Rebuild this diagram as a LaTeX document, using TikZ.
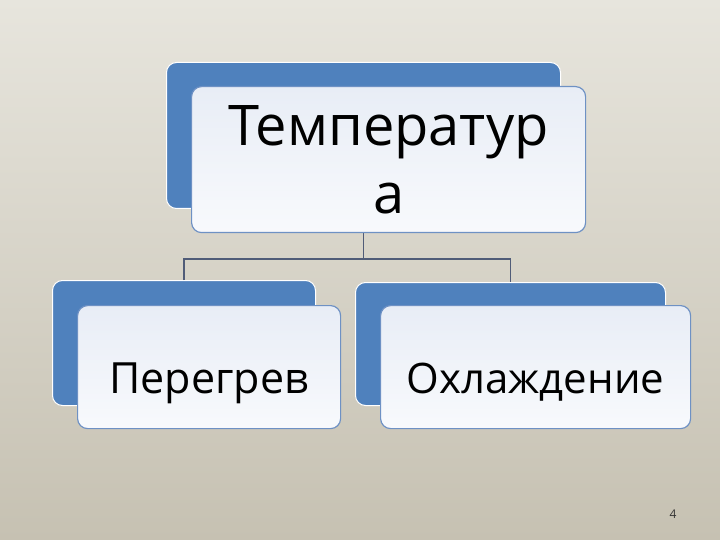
\documentclass[tikz,border=0pt]{standalone}
\usepackage{fontspec}
\setmainfont{Open Sans}
\usepackage{tikz}
\usetikzlibrary{calc}

\definecolor{officeblue}{RGB}{79,129,189}
\definecolor{frontline}{RGB}{110,145,196}
\definecolor{frontfill}{RGB}{232,237,246}
\definecolor{linkgray}{RGB}{80,92,120}
\definecolor{bgtop}{RGB}{231,229,221}
\definecolor{bgbottom}{RGB}{198,193,178}

\begin{document}
\begin{tikzpicture}[x=1pt,y=-1pt]
\tikzset{
	back box/.style = {draw = white, line width = 1, fill = officeblue, rounded corners = 10, anchor = north west, inner sep = 0},
	front box/.style = {draw = frontline, line width = 1.2, top color = frontfill, bottom color = white!70!frontfill, rounded corners = 10, anchor = north west, inner sep = 0, align = center},
	low text/.style = {text height = 63, text depth = 10},
	link/.style = {draw = linkgray, line width = 1.3},
}

% page
\shade[top color = bgtop, bottom color = bgbottom] (0,0) rectangle (720,540);
\useasboundingbox (0,0) rectangle (720,540);

% back boxes
\node(tempback)[back box, minimum width = 394, minimum height = 146] at (166,62) {};
\node(hotback)[back box, minimum width = 263, minimum height = 125] at (52,280) {};
\node(coolback)[back box, minimum width = 310, minimum height = 123] at (355,282) {};

% connectors
\draw [link] (tempback.south) -- ++(0,50) coordinate (fork);
\draw [link] (hotback.north) |- (fork) -| (coolback.north);

% front boxes
\node(temp)[front box, minimum width = 394, minimum height = 146, font = \fontsize{56}{68}\selectfont] at (191,86) {Температур\\а};
\node(hot)[front box, low text, minimum width = 263, minimum height = 123, font = \fontsize{43}{50}\selectfont] at (77,305) {Перегрев};
\node(cool)[front box, low text, minimum width = 310, minimum height = 123, font = \fontsize{42}{50}\selectfont] at (380,305) {Охлаждение};

\node(page)[font = \fontsize{12}{14}\selectfont, text = black!80] at (673,514) {4};

\end{tikzpicture}
\end{document}
